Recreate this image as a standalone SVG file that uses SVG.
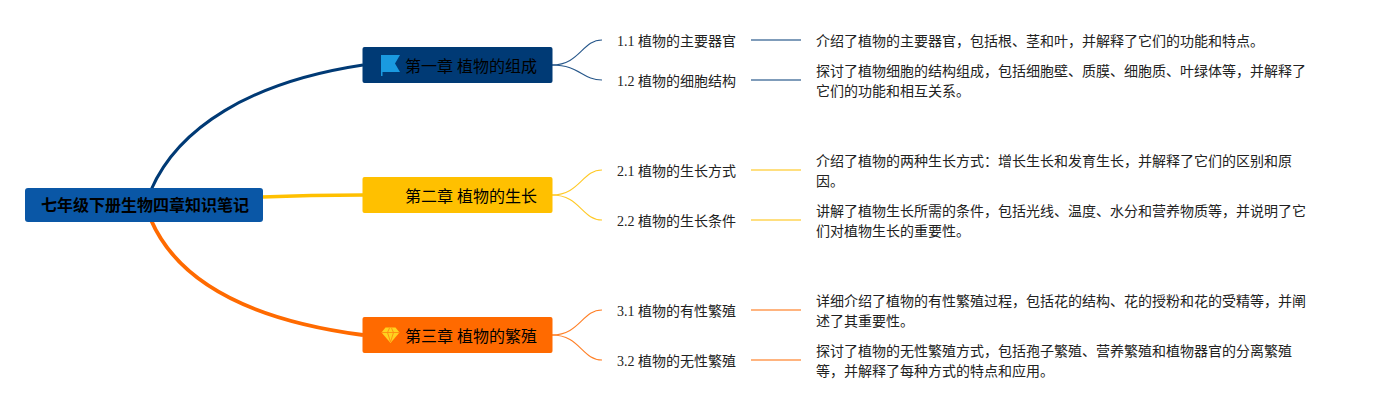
<svg xmlns="http://www.w3.org/2000/svg" width="1376" height="410" viewBox="0 0 1376 410">
<style>
text{font-family:"Liberation Serif","Noto Sans CJK SC",serif;fill:#000;white-space:pre}
.root{font-size:16px;font-weight:bold}
.ch{font-size:16px}
.sub,.desc{font-size:14px;fill:#222}
.c{fill:none}
.thin{stroke-width:1.1;opacity:.85}
.lead{stroke-width:2;opacity:.5}
.blue{stroke:#003a75}.yellow{stroke:#ffc000}.orange{stroke:#ff6a00}
</style>
<rect width="1376" height="410" fill="#fff"/>
<g id="connectors">
<path class="c blue" stroke-width="3" d="M151 190C178 128 250 82 363 65"/>
<path class="c yellow" stroke-width="3.600" d="M262 197Q310 195 363 195"/>
<path class="c orange" stroke-width="3.800" d="M151 220C178 282 250 320 363 335"/>
<path class="c thin blue" d="M552 65C580 65 582 40 602 40"/>
<path class="c thin blue" d="M552 65C580 65 582 80 602 80"/>
<path class="c thin yellow" d="M552 195C580 195 582 170 602 170"/>
<path class="c thin yellow" d="M552 195C580 195 582 220 602 220"/>
<path class="c thin orange" d="M552 335C580 335 582 310 602 310"/>
<path class="c thin orange" d="M552 335C580 335 582 360 602 360"/>
<path class="c lead blue" d="M751 40H801M751 80H801"/>
<path class="c lead yellow" d="M751 170H801M751 220H801"/>
<path class="c lead orange" d="M751 310H801M751 360H801"/>
</g>
<g id="root"><rect x="25" y="188" width="238" height="34" rx="3" fill="#0a57a6"/><text class="root" x="41" y="211">七年级下册生物四章知识笔记</text></g>
<g id="ch1"><rect x="362.500" y="47" width="190" height="36" rx="2" fill="#003a75"/>
<path d="M381 55H400L395 63.500L400 72H382.500V76H381Z" fill="#1a9ae0"/>
<text class="ch" x="405" y="72">第一章 植物的组成</text></g>
<g id="ch2"><rect x="362.500" y="177" width="190" height="36" rx="2" fill="#ffc000"/><text class="ch" x="405" y="202">第二章 植物的生长</text></g>
<g id="ch3"><rect x="362.500" y="317" width="190" height="36" rx="2" fill="#ff6a00"/>
<path d="M385.500 327.500H395.500L399.500 332.500L390.500 343L381.500 332.500Z" fill="#ffd21f"/>
<path d="M382 332.500H399M387.500 332.500L390.500 342L393.500 332.500L391.500 328M387.500 332.500L389.500 328" fill="none" stroke="#ff8a10" stroke-width=".9"/>
<text class="ch" x="405" y="342">第三章 植物的繁殖</text></g>
<g id="s11"><text class="sub" x="617" y="46">1.1 植物的主要器官</text></g>
<g id="s12"><text class="sub" x="617" y="86">1.2 植物的细胞结构</text></g>
<g id="s21"><text class="sub" x="617" y="176">2.1 植物的生长方式</text></g>
<g id="s22"><text class="sub" x="617" y="226">2.2 植物的生长条件</text></g>
<g id="s31"><text class="sub" x="617" y="316">3.1 植物的有性繁殖</text></g>
<g id="s32"><text class="sub" x="617" y="366">3.2 植物的无性繁殖</text></g>
<g id="d11"><text class="desc" x="816" y="46">介绍了植物的主要器官，包括根、茎和叶，并解释了它们的功能和特点。</text></g>
<g id="d12"><text class="desc" x="816" y="76">探讨了植物细胞的结构组成，包括细胞壁、质膜、细胞质、叶绿体等，并解释了</text><text class="desc" x="816" y="96">它们的功能和相互关系。</text></g>
<g id="d21"><text class="desc" x="816" y="166">介绍了植物的两种生长方式：增长生长和发育生长，并解释了它们的区别和原</text><text class="desc" x="816" y="186">因。</text></g>
<g id="d22"><text class="desc" x="816" y="216">讲解了植物生长所需的条件，包括光线、温度、水分和营养物质等，并说明了它</text><text class="desc" x="816" y="236">们对植物生长的重要性。</text></g>
<g id="d31"><text class="desc" x="816" y="306">详细介绍了植物的有性繁殖过程，包括花的结构、花的授粉和花的受精等，并阐</text><text class="desc" x="816" y="326">述了其重要性。</text></g>
<g id="d32"><text class="desc" x="816" y="356">探讨了植物的无性繁殖方式，包括孢子繁殖、营养繁殖和植物器官的分离繁殖</text><text class="desc" x="816" y="376">等，并解释了每种方式的特点和应用。</text></g>
</svg>
